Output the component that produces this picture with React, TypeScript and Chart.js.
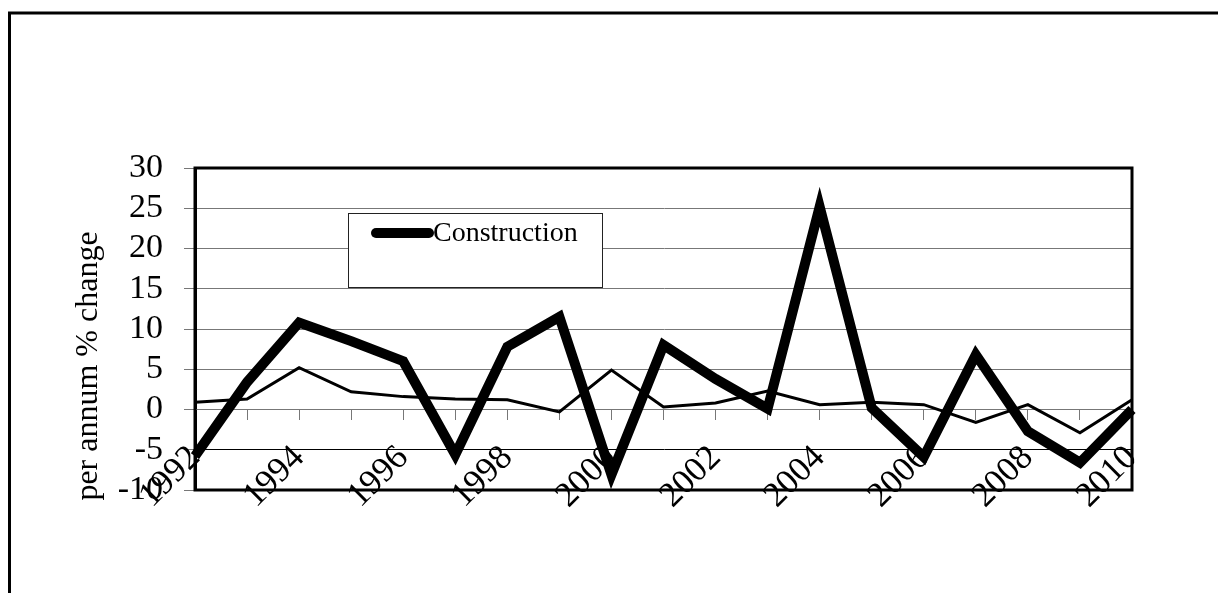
import React, { useEffect, useRef } from "react";
import { Chart, registerables } from "chart.js";

Chart.register(...registerables);

const years = ["1992","1993","1994","1995","1996","1997","1998","1999","2000","2001","2002","2003","2004","2005","2006","2007","2008","2009","2010"];
const constructionLabel = "Construction";
const construction = [-5.8, 3.4, 10.8, 8.5, 6.0, -5.6, 7.8, 11.5, -8.1, 8.0, 3.8, 0.1, 25.2, 0.2, -5.9, 6.8, -2.7, -6.6, 0.0];
const otherSeries = [0.9, 1.3, 5.2, 2.2, 1.6, 1.3, 1.2, -0.3, 4.9, 0.3, 0.8, 2.3, 0.6, 0.9, 0.6, -1.6, 0.6, -2.9, 1.2];
const yMin = -10;
const yMax = 30;
const yStep = 5;
const yTitle = "per annum % change";

const FONT = "'Liberation Serif', 'Times New Roman', serif";

const framePlugin = {
  id: "frame",
  beforeDraw(chart: any) {
    const ctx = chart.ctx;
    ctx.save();
    ctx.fillStyle = "#fff";
    ctx.fillRect(0, 0, chart.width, chart.height);
    ctx.strokeStyle = "#000";
    ctx.lineWidth = 3;
    ctx.strokeRect(9.5, 13, chart.width + 20, chart.height + 20);
    // y axis title
    ctx.translate(97, 366);
    ctx.rotate(-Math.PI / 2);
    ctx.font = `32px ${FONT}`;
    ctx.fillStyle = "#000";
    ctx.textAlign = "center";
    ctx.textBaseline = "alphabetic";
    ctx.fillText(yTitle, 0, 0);
    ctx.restore();
  },
  beforeDatasetsDraw(chart: any) {
    const { ctx, chartArea: a } = chart;
    ctx.save();
    ctx.strokeStyle = "#000";
    ctx.lineWidth = 3;
    ctx.strokeRect(a.left, a.top, a.right - a.left, a.bottom - a.top);
    ctx.restore();
  },
  afterDatasetsDraw(chart: any) {
    const ctx = chart.ctx;
    const box = { x: 348, y: 213, w: 254, h: 74 };
    ctx.save();
    ctx.fillStyle = "#fff";
    ctx.fillRect(box.x, box.y, box.w, box.h);
    ctx.strokeStyle = "#222";
    ctx.lineWidth = 1;
    ctx.strokeRect(box.x + 0.5, box.y + 0.5, box.w, box.h);
    const rowH = 37;
    chart.data.datasets.forEach((ds: any, i: number) => {
      if (!ds.label) return;
      const cy = box.y + 20 + i * rowH;
      ctx.strokeStyle = ds.borderColor;
      ctx.lineWidth = ds.borderWidth;
      ctx.lineCap = "round";
      ctx.beginPath();
      ctx.moveTo(376, cy);
      ctx.lineTo(429, cy);
      ctx.stroke();
      ctx.fillStyle = "#000";
      ctx.font = `28px ${FONT}`;
      ctx.textAlign = "left";
      ctx.textBaseline = "middle";
      ctx.fillText(ds.label, 433, cy + 1);
    });
    ctx.restore();
  },
};

export default function App() {
  const ref = useRef<HTMLCanvasElement>(null);
  useEffect(() => {
    if (!ref.current) return;
    const chart = new Chart(ref.current, {
      type: "line",
      data: {
        labels: years,
        datasets: [
          {
            label: constructionLabel,
            data: construction,
            borderColor: "#000",
            borderWidth: 10,
            pointRadius: 0,
            tension: 0,
            borderJoinStyle: "miter",
            borderCapStyle: "butt",
          },
          {
            label: "",
            data: otherSeries,
            borderColor: "#000",
            borderWidth: 3,
            pointRadius: 0,
            tension: 0,
            borderJoinStyle: "miter",
          },
        ],
      },
      plugins: [framePlugin],
      options: {
        animation: false,
        responsive: false,
        events: [],
        layout: { padding: { top: 168, right: 86, bottom: 103, left: 0 } },
        plugins: { legend: { display: false }, tooltip: { enabled: false }, title: { display: false } },
        scales: {
          y: {
            min: yMin,
            max: yMax,
            afterFit: (s: any) => { s.width = 195; },
            ticks: {
              stepSize: yStep,
              autoSkip: false,
              color: "#000",
              font: { family: FONT, size: 34 },
              padding: 21,
            },
            grid: {
              color: (c: any) => (c.tick && c.tick.value === -5 ? "#000" : "#777"),
              lineWidth: 1,
              tickLength: 11,
              tickColor: "#777",
            },
            border: { display: true, color: "#000", width: 3 },
          },
          x: {
            type: "category",
            position: { y: 0 } as any,
            offset: false,
            ticks: {
              autoSkip: false,
              minRotation: 45,
              maxRotation: 45,
              color: "#000",
              font: { family: FONT, size: 35 },
              padding: 18,
              callback: function (this: any, v: any, i: number) {
                return i % 2 === 0 ? years[i] : "";
              },
            },
            grid: {
              drawOnChartArea: false,
              drawTicks: true,
              tickLength: 10,
              tickColor: "#777",
            },
            border: { display: true, color: "#777", width: 1 },
          },
        },
      },
    });
    return () => chart.destroy();
  }, []);
  return (
    <div style={{ position: "absolute", left: 0, top: 0, width: 1218, height: 593 }}>
      <canvas ref={ref} width={1218} height={593} style={{ display: "block" }} />
    </div>
  );
}
